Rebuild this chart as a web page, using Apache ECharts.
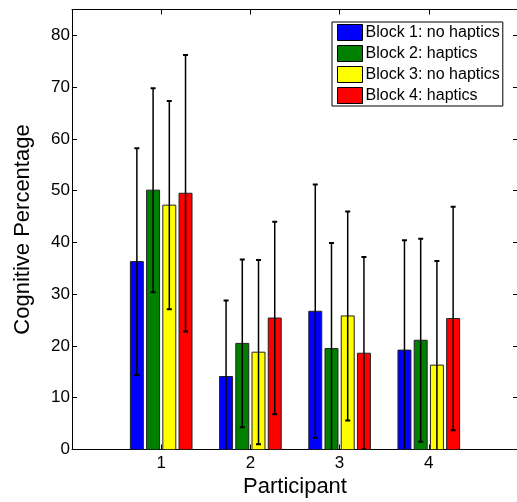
<!DOCTYPE html>
<html>
<head>
<meta charset="utf-8">
<style>
  html, body { margin: 0; padding: 0; background: #fff; }
  #chart { width: 517px; height: 502px; }
</style>
<script src="https://cdn.jsdelivr.net/npm/echarts@6/dist/echarts.min.js"></script>
</head>
<body>
<div id="chart"></div>
<script>
// participants on the x axis
var participants = [1, 2, 3, 4]
var blockNames = ['Block 1: no haptics', 'Block 2: haptics', 'Block 3: no haptics', 'Block 4: haptics']
var blockColors = ['#0000ff', '#008000', '#ffff00', '#ff0000']

// mean cognitive percentage per participant
var block1Mean = [36.3, 14.1, 26.7, 19.2]
var block2Mean = [50.1, 20.5, 19.5, 21.1]
var block3Mean = [47.2, 18.8, 25.8, 16.3]
var block4Mean = [49.5, 25.4, 18.6, 25.3]

// error bar half length (std)
var block1Err = [21.9, 14.7, 24.5, 21.2]
var block2Err = [19.7, 16.2, 20.4, 19.6]
var block3Err = [20.1, 17.8, 20.2, 20.1]
var block4Err = [26.7, 18.6, 18.6, 21.6]

var yTicks = [0, 10, 20, 30, 40, 50, 60, 70, 80]

var means = [block1Mean, block2Mean, block3Mean, block4Mean]
var errs = [block1Err, block2Err, block3Err, block4Err]

// matlab style grouped bar layout (in x axis units)
var groupStep = 0.7273 / 4
var barWidth = groupStep * 0.8
var offsets = [-1.5 * groupStep, -0.5 * groupStep, 0.5 * groupStep, 1.5 * groupStep]

var font = 'Liberation Sans, Arial, Helvetica, sans-serif'

function renderBar(params, api) {
  var x = api.value(0) + offsets[params.seriesIndex]
  var mean = api.value(1)
  var err = api.value(2)
  var base = api.coord([x, 0])
  var top = api.coord([x, mean])
  var hi = api.coord([x, mean + err])
  var lo = api.coord([x, mean - err])
  var w = api.size([barWidth, 0])[0]
  var cap = 2.5
  var lineStyle = { stroke: '#000', lineWidth: 1.5 }
  return {
    type: 'group',
    children: [
      {
        type: 'rect',
        shape: { x: top[0] - w / 2, y: top[1], width: w, height: base[1] - top[1] },
        style: { fill: api.visual('color'), stroke: '#222', lineWidth: 1 }
      },
      { type: 'line', shape: { x1: hi[0], y1: hi[1], x2: lo[0], y2: lo[1] }, style: lineStyle },
      { type: 'line', shape: { x1: hi[0] - cap, y1: hi[1], x2: hi[0] + cap, y2: hi[1] }, style: { stroke: '#000', lineWidth: 2 } },
      { type: 'line', shape: { x1: lo[0] - cap, y1: lo[1], x2: lo[0] + cap, y2: lo[1] }, style: { stroke: '#000', lineWidth: 2 } }
    ]
  }
}

var series = blockNames.map(function(name, i) {
  return {
    name: name,
    type: 'custom',
    clip: true,
    itemStyle: { color: blockColors[i] },
    encode: { x: 0, y: 1 },
    data: participants.map(function(p, j) {
      return [p, means[i][j], errs[i][j]]
    }),
    renderItem: renderBar
  }
})

// box axes like matlab: lines on all four sides, ticks pointing inward
var boxLine = { show: true, onZero: false, lineStyle: { color: '#000', width: 1 } }
var boxTick = { show: true, inside: true, length: 5, lineStyle: { color: '#000' } }

var chart = echarts.init(document.getElementById('chart'))
chart.setOption({
  animation: false,
  grid: {
    left: 72,
    right: -1,
    top: 9.5,
    bottom: 52.5,
    outerBoundsMode: 'none'
  },
  legend: {
    orient: 'vertical',
    left: 332,
    top: 22,
    icon: 'rect',
    itemWidth: 25,
    itemHeight: 16,
    itemGap: 4,
    padding: [2, 3, 2, 5],
    itemStyle: { borderColor: '#000', borderWidth: 1 },
    backgroundColor: '#fff',
    borderColor: '#000',
    borderWidth: 1,
    textStyle: { fontFamily: font, fontSize: 16, color: '#000', padding: [0, 0, 0, -2] },
    data: blockNames
  },
  xAxis: [
    {
      type: 'value',
      min: 0,
      max: 5,
      interval: 1,
      name: 'Participant',
      nameLocation: 'middle',
      nameGap: 22,
      nameTextStyle: { fontFamily: font, fontSize: 22, color: '#000' },
      axisLine: boxLine,
      axisTick: boxTick,
      axisLabel: {
        fontFamily: font,
        fontSize: 17,
        color: '#000',
        margin: 5,
        formatter: function(v) { return participants.indexOf(v) >= 0 ? v : '' }
      },
      splitLine: { show: false }
    },
    {
      type: 'value',
      position: 'top',
      min: 0,
      max: 5,
      interval: 1,
      axisLine: boxLine,
      axisTick: boxTick,
      axisLabel: { show: false },
      splitLine: { show: false }
    }
  ],
  yAxis: [
    {
      type: 'value',
      min: 0,
      max: 85,
      interval: 10,
      name: 'Cognitive Percentage',
      nameLocation: 'middle',
      nameGap: 38,
      nameTextStyle: { fontFamily: font, fontSize: 22, color: '#000' },
      axisLine: boxLine,
      axisTick: boxTick,
      axisLabel: {
        fontFamily: font,
        fontSize: 17,
        color: '#000',
        margin: 2,
        formatter: function(v) { return yTicks.indexOf(v) >= 0 ? v : '' }
      },
      splitLine: { show: false }
    },
    {
      type: 'value',
      position: 'right',
      min: 0,
      max: 85,
      interval: 10,
      axisLine: boxLine,
      axisTick: boxTick,
      axisLabel: { show: false },
      splitLine: { show: false }
    }
  ],
  series: series
})
</script>
</body>
</html>
